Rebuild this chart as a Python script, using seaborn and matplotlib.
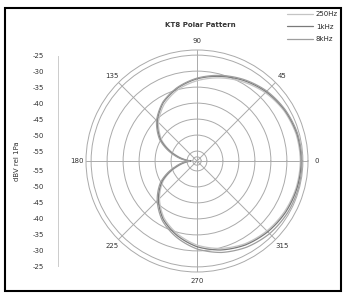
import numpy as np
import pandas as pd
import seaborn as sns
import matplotlib.pyplot as plt
from matplotlib.patches import Rectangle

sns.set_style("white")
plt.rcParams['font.family'] = ['DejaVu Sans']

# angles in degrees, level in dBV rel 1Pa
angles = [0, 15, 30, 45, 60, 75, 90, 105, 120, 135, 150, 165,
          180, 195, 210, 225, 240, 255, 270, 285, 300, 315, 330, 345, 360]
lvl_250 = [-25.8, -26.0, -26.7, -27.9, -29.5, -31.2, -33.0, -35.0, -37.6, -41.0, -45.5, -51.5,
           -56.8, -52.0, -46.0, -41.5, -37.5, -34.5, -31.8, -29.8, -28.2, -27.2, -26.5, -26.0, -25.8]
lvl_1k = [-25.5, -25.7, -26.4, -27.5, -29.0, -30.7, -32.4, -34.5, -37.0, -40.5, -45.0, -51.0,
          -56.2, -51.5, -45.5, -41.0, -37.0, -34.0, -31.3, -29.3, -27.8, -26.8, -26.1, -25.7, -25.5]
lvl_8k = [-25.3, -25.5, -26.2, -27.2, -28.7, -30.4, -32.2, -34.3, -36.8, -40.2, -44.6, -50.5,
          -55.8, -51.0, -45.0, -40.5, -36.5, -33.4, -30.6, -28.5, -27.0, -26.0, -25.5, -25.3, -25.3]
labels = ['250Hz', '1kHz', '8kHz']
colors = ['#c4c4c4', '#7a7a7a', '#9e9e9e']

r_min, r_max = -58.1, -23.4
db_ticks = [-25, -30, -35, -40, -45, -50, -55]

df = pd.DataFrame({
    'theta': np.deg2rad(angles * 3),
    'db': lvl_250 + lvl_1k + lvl_8k,
    'freq': [labels[0]] * len(angles) + [labels[1]] * len(angles) + [labels[2]] * len(angles),
})

W, H = 344, 293
fig = plt.figure(figsize=(W / 100, H / 100), dpi=100)

# polar part
ax = fig.add_axes([86 / W, 21 / H, 222 / W, 222 / H], projection='polar')
sns.lineplot(data=df, x='theta', y='db', hue='freq', palette=dict(zip(labels, colors)),
             sort=False, estimator=None, ax=ax, linewidth=0.9, legend=False)
for ln in ax.lines:
    ln.get_path()._interpolation_steps = 30
ax.set_xlabel('')
ax.set_ylabel('')
ax.set_ylim(r_min, r_max)
ax.set_yticks(db_ticks)
ax.set_yticklabels([])
ax.set_thetagrids(range(0, 360, 45), [str(a) for a in range(0, 360, 45)], fontsize=5, color='#333333')
ax.tick_params(axis='x', pad=-4)
ax.grid(True, color='#aaaaaa', linewidth=0.7)
ax.spines['polar'].set_color('#aaaaaa')
ax.spines['polar'].set_linewidth(0.7)
# small inner ring near the centre
ring = np.linspace(0, 2 * np.pi, 100)
ax.plot(ring, np.full_like(ring, -56.8), color='#aaaaaa', linewidth=0.7)

# left scale, mirrored around the centre
span = r_max - r_min
lax = fig.add_axes([58 / W, 21 / H, 0.001, 222 / H])
lax.set_ylim(-span, span)
pos = [d - r_min for d in db_ticks] + [-(d - r_min) for d in db_ticks]
lax.set_yticks(pos)
lax.set_yticklabels([str(d) for d in db_ticks] * 2, fontsize=5, color='#333333')
lax.set_xticks([])
for s in ['top', 'right', 'bottom']:
    lax.spines[s].set_visible(False)
lax.spines['left'].set_color('#cccccc')
lax.spines['left'].set_linewidth(0.7)
lax.spines['left'].set_bounds(-span + 2, span - 2)
lax.tick_params(axis='y', length=2, width=0.5, color='#bbbbbb', pad=8)
fig.text(17 / W, 1 - 161 / H, 'dBV rel 1Pa', rotation=90, fontsize=5, color='#333333',
         ha='center', va='center')

fig.text(200 / W, 1 - 25 / H, 'KT8 Polar Pattern', fontsize=5, fontweight='bold',
         color='#333333', ha='center', va='center')

handles = [plt.Line2D([], [], color=c, linewidth=0.9) for c in colors]
fig.legend(handles, labels, loc='upper right', bbox_to_anchor=(0.995, 0.975), frameon=False,
           fontsize=5, handlelength=3.8, handletextpad=0.4, labelspacing=0.9, borderaxespad=0.2)

fig.patches.append(Rectangle((5 / W, 2 / H), 336 / W, 283 / H, transform=fig.transFigure,
                             fill=False, edgecolor='black', linewidth=1.5))

fig.savefig('out.png', dpi=100)
